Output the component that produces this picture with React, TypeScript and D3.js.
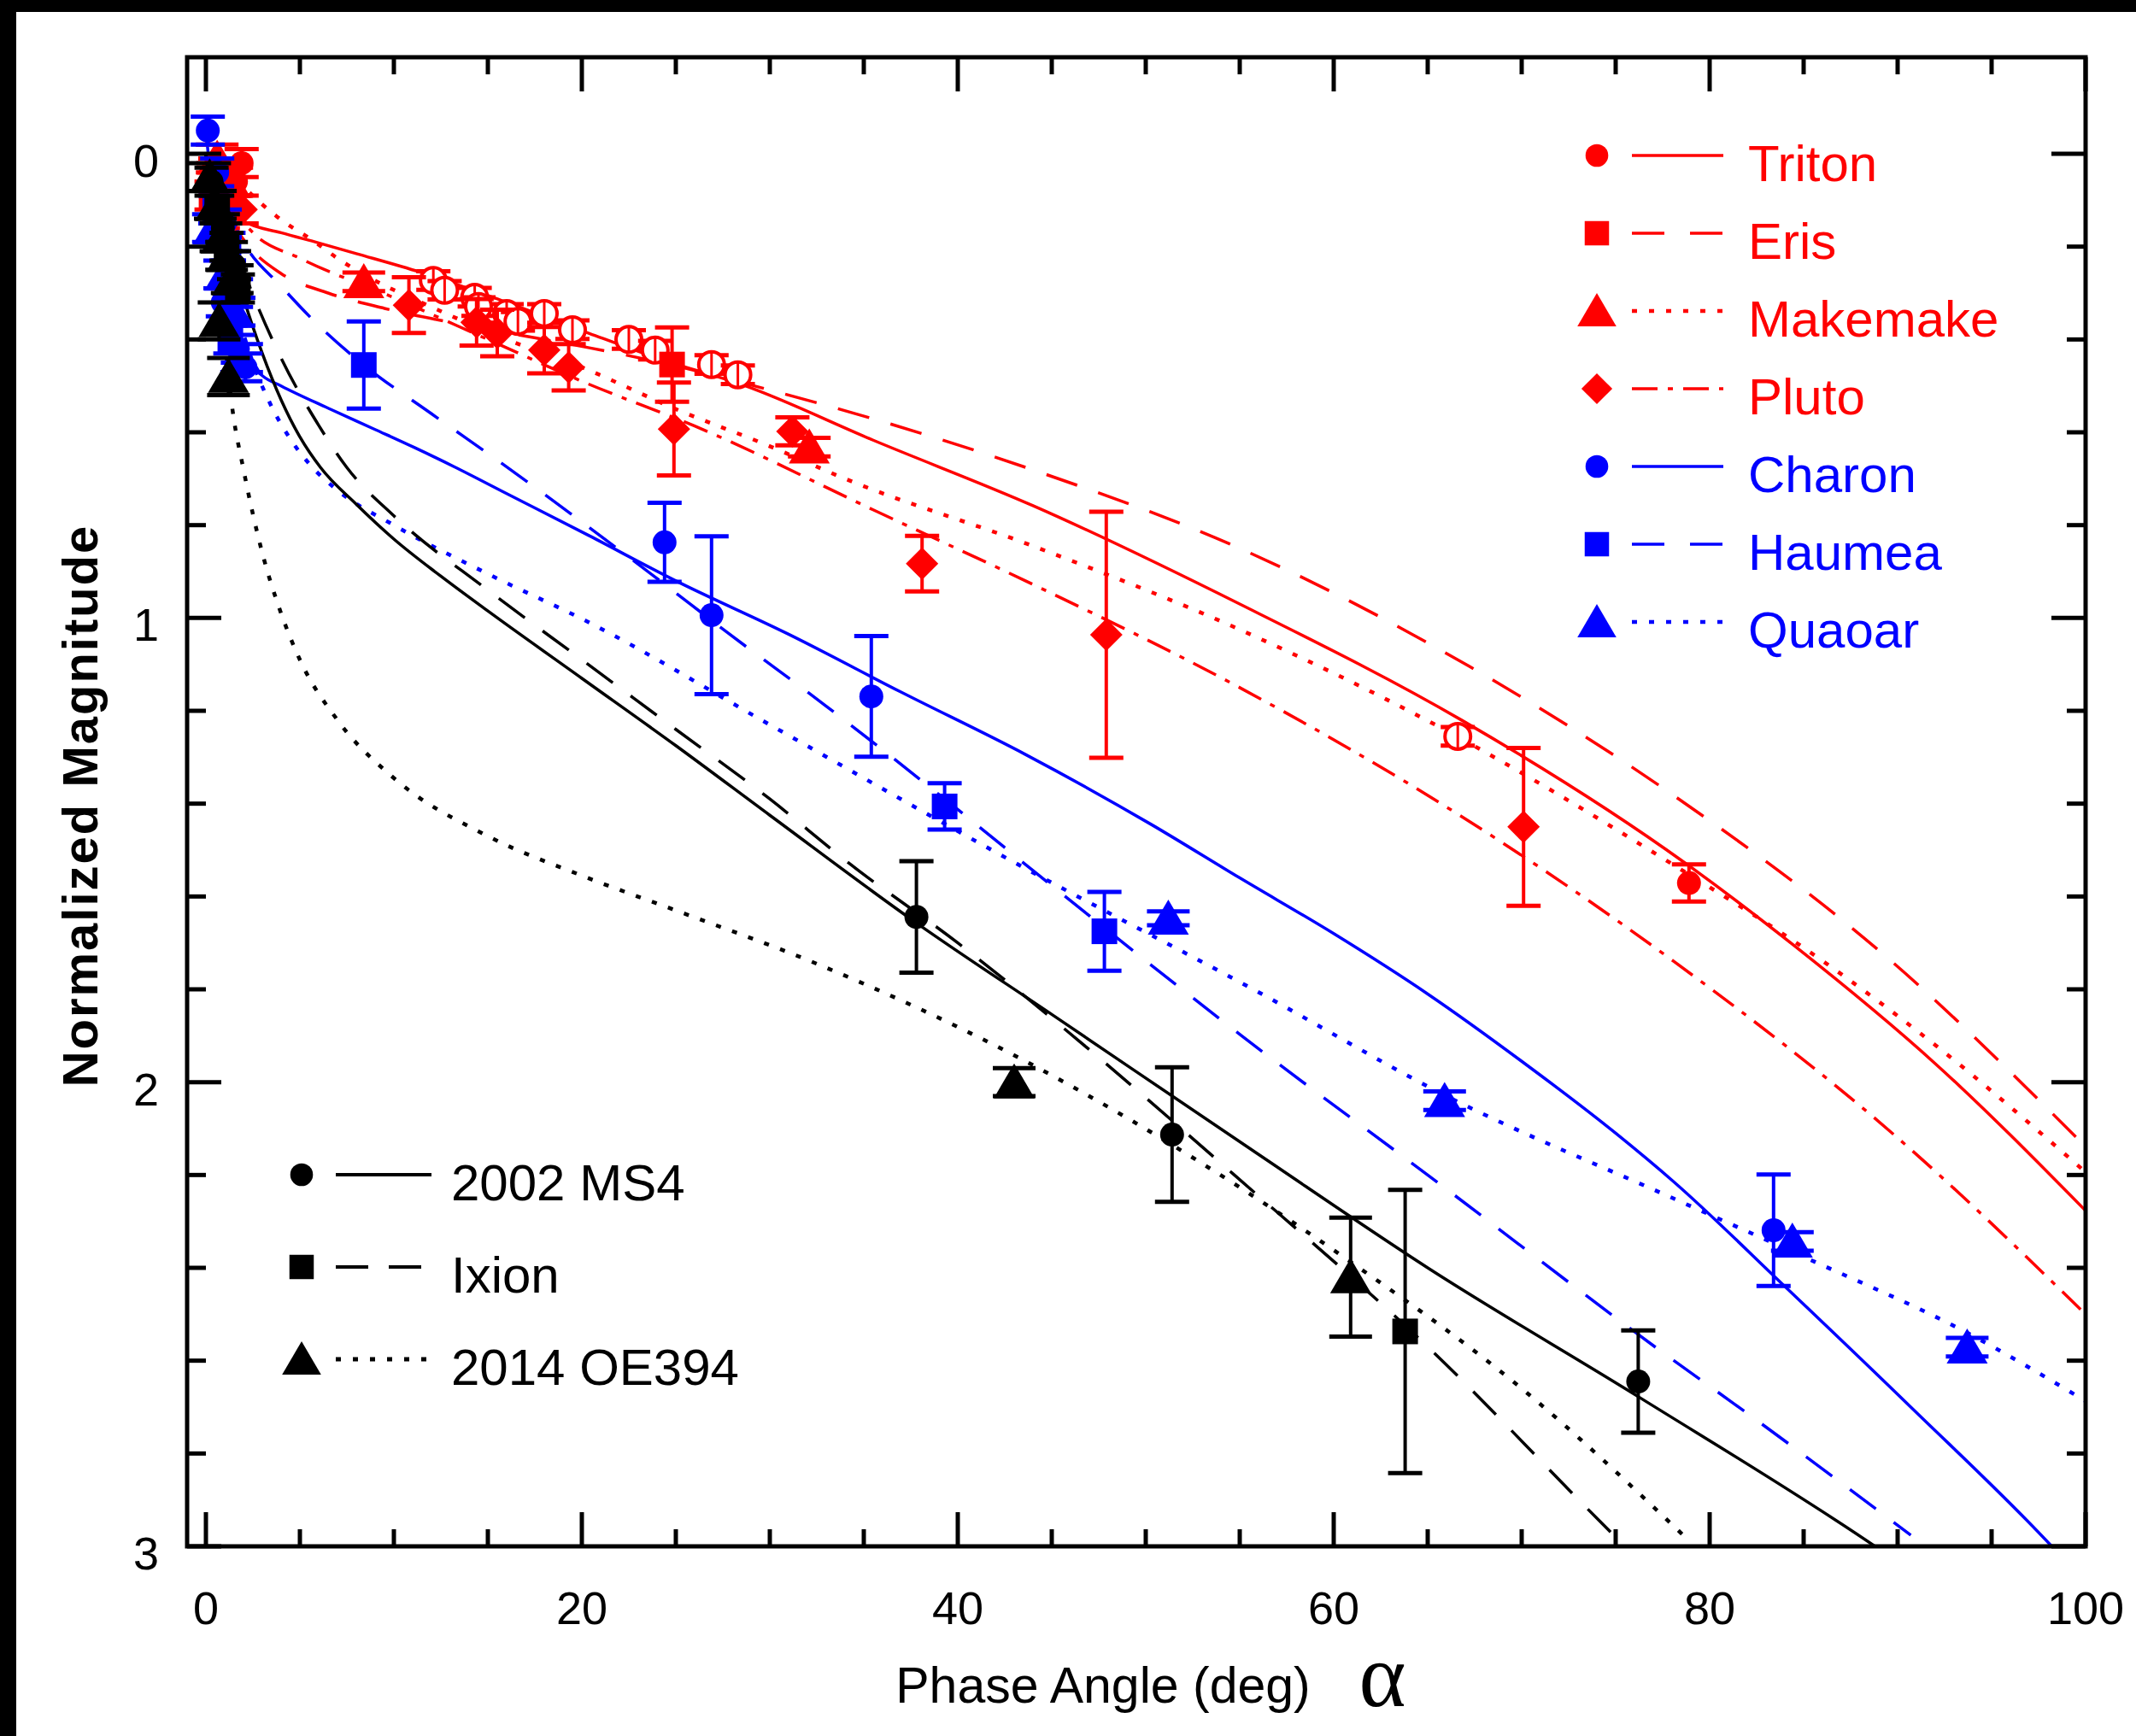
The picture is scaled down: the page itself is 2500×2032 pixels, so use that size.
import React, { useEffect } from 'react';
import * as d3 from 'd3';

// ---------- data ----------
const xTicksMajor = [0, 20, 40, 60, 80, 100];
const yTicksMajor = [0, 1, 2, 3];

// fitted phase curves [phase angle (deg), normalized magnitude]
const tritonFit = [[0,0.0],[1,0.085],[2,0.145],[4,0.17],[6,0.192],[8,0.215],[11.4,0.255],[16,0.32],[20.4,0.387],[24,0.44],[28.7,0.5],[35.5,0.617],[44,0.758],[55,0.97],[66.8,1.22],[78.7,1.528],[84.5,1.706],[92,1.96],[100,2.277]];
const erisFit = [[0,0.02],[1,0.12],[2.3,0.2],[4,0.258],[6.5,0.3],[9.5,0.333],[15,0.378],[20.4,0.418],[24.8,0.455],[30.1,0.51],[35.5,0.571],[44,0.681],[55,0.85],[67.2,1.104],[78,1.38],[89.4,1.73],[100,2.139]];
const makemakeFit = [[0,-0.03],[1,0.02],[2.1,0.074],[3.8,0.136],[5.8,0.19],[7.1,0.228],[8.4,0.26],[12,0.33],[16,0.4],[20,0.46],[25,0.55],[30,0.63],[34,0.7],[44,0.845],[55,1.025],[65.4,1.23],[78,1.53],[85.7,1.73],[92,1.92],[100,2.194]];
const plutoFit = [[0,0.0],[1,0.09],[2.5,0.17],[5,0.225],[10,0.31],[15,0.4],[20,0.49],[26.5,0.595],[35.5,0.767],[43.6,0.92],[55,1.15],[66.5,1.42],[78.1,1.74],[90,2.12],[100,2.5]];
const charonFit = [[0,-0.05],[0.5,0.14],[1,0.27],[1.5,0.37],[2,0.43],[3,0.478],[4,0.5],[6.5,0.548],[9,0.594],[11.1,0.633],[13.2,0.674],[16,0.732],[20.4,0.823],[25,0.92],[31,1.035],[37,1.16],[43.6,1.294],[50.3,1.445],[55,1.56],[60,1.68],[65,1.81],[70,1.955],[75,2.11],[78.1,2.215],[84,2.44],[90.7,2.7],[98.2,3.0],[100,3.08]];
const haumeaFit = [[0,0.0],[1,0.1],[2,0.19],[4,0.285],[6,0.37],[8.4,0.455],[12,0.56],[15.5,0.66],[24,0.915],[27.7,1.03],[33,1.19],[39.3,1.39],[45.1,1.58],[55.1,1.9],[65,2.2],[78.1,2.6],[81.2,2.69],[90.7,2.976]];
const quaoarFit = [[0,0.0],[0.5,0.12],[1,0.22],[1.7,0.345],[2.5,0.45],[3.5,0.545],[4.5,0.615],[5.5,0.668],[7,0.725],[10,0.8],[15,0.905],[20.4,1.01],[30,1.23],[42.8,1.522],[55.9,1.804],[66,2.03],[78.1,2.251],[85.1,2.378],[93.7,2.54],[100,2.687]];
const ms4Fit = [[0,0.0],[1,0.16],[2,0.31],[3,0.43],[4,0.53],[5,0.61],[6.1,0.676],[8,0.755],[10,0.83],[12.5,0.91],[15,0.985],[20,1.13],[25,1.275],[30,1.425],[37.8,1.657],[45,1.854],[55.9,2.153],[65,2.4],[76.3,2.68],[88.8,3.0],[92,3.09]];
const ixionFit = [[0,0.0],[1,0.13],[2,0.25],[4,0.44],[6,0.585],[7.5,0.676],[10,0.78],[15,0.94],[20,1.09],[25,1.24],[30,1.39],[34.2,1.528],[40,1.7],[47,1.93],[54.6,2.196],[65,2.57],[74.9,2.976],[76,3.02]];
const oe394Fit = [[0,0.0],[0.5,0.2],[1,0.4],[1.4,0.547],[2,0.68],[3,0.86],[4,0.99],[5,1.09],[7,1.22],[10,1.345],[15,1.47],[20,1.555],[25,1.63],[32.5,1.745],[42.8,1.938],[55.7,2.245],[61,2.39],[70,2.66],[78.7,2.98]];

// observations [phase angle, magnitude, error]
const tritonOpenObs = [[12.1,0.273,0.02],[12.7,0.294,0.02],[14.3,0.309,0.02],[14.5,0.329,0.02],[16.0,0.344,0.02],[16.6,0.361,0.02],[18.0,0.344,0.02],[19.5,0.379,0.02],[22.5,0.40,0.02],[23.9,0.423,0.02],[26.9,0.454,0.02],[28.3,0.476,0.02],[66.6,1.255,0.02]];
const tritonObs = [[78.9,1.571,0.04],[1.9,0.02,0.03],[1.6,0.06,0.03],[0.4,0.05,0.03]];
const erisObs = [[24.8,0.454,0.08],[0.3,0.09,0.03],[0.9,0.13,0.03]];
const makemakeObs = [[8.4,0.276,0.02],[32.1,0.632,0.02],[0.6,0.01,0.03],[1.3,0.06,0.03]];
const plutoObs = [[10.8,0.326,0.06],[14.4,0.363,0.05],[15.5,0.386,0.05],[18.0,0.423,0.05],[19.3,0.46,0.05],[24.9,0.593,0.1],[31.2,0.598,0.03],[38.1,0.883,0.06],[47.9,1.036,0.265],[70.1,1.45,0.17],[0.5,0.04,0.03],[1.2,0.1,0.03],[1.9,0.12,0.03]];
const charonObs = [[24.4,0.837,0.085],[26.9,0.994,0.17],[35.4,1.169,0.13],[83.4,2.319,0.12],[0.1,-0.05,0.03],[0.6,0.04,0.03],[1.0,0.15,0.03],[1.4,0.24,0.03],[0.9,0.32,0.03],[1.7,0.42,0.03],[2.1,0.46,0.03]];
const haumeaObs = [[8.4,0.455,0.094],[39.3,1.406,0.05],[47.8,1.675,0.085],[0.5,0.12,0.03],[1.2,0.2,0.03],[1.6,0.3,0.03],[1.3,0.4,0.03]];
const quaoarObs = [[51.2,1.647,0.015],[65.9,2.04,0.02],[84.4,2.343,0.02],[93.7,2.571,0.02],[0.4,0.16,0.03],[1.0,0.26,0.03],[1.5,0.34,0.03],[1.9,0.44,0.03]];
const ms4Obs = [[37.8,1.644,0.12],[51.4,2.113,0.145],[76.2,2.645,0.11],[0.3,0.06,0.03],[0.9,0.16,0.03],[1.5,0.24,0.03]];
const ixionObs = [[63.8,2.537,0.305],[0.6,0.12,0.03],[1.1,0.2,0.03],[1.7,0.29,0.03]];
const oe394Obs = [[43.0,2.0,0.03],[60.9,2.42,0.128],[0.2,0.05,0.03],[0.5,0.11,0.03],[0.8,0.18,0.03],[1.1,0.22,0.03],[1.4,0.27,0.03],[0.7,0.36,0.04],[1.2,0.48,0.04]];

const RED = '#ff0000';
const BLUE = '#0000ff';
const BLACK = '#000000';

const DASH = '38,26';
const DOT = '6,14';
const DASHDOT = '30,12,6,12';

type Shape = 'circle' | 'square' | 'triangle' | 'diamond' | 'open';

const series = [
  { name: 'Triton', color: RED, dash: '', shape: 'circle' as Shape, fit: tritonFit, obs: tritonObs },
  { name: 'Eris', color: RED, dash: DASH, shape: 'square' as Shape, fit: erisFit, obs: erisObs },
  { name: 'Makemake', color: RED, dash: DOT, shape: 'triangle' as Shape, fit: makemakeFit, obs: makemakeObs },
  { name: 'Pluto', color: RED, dash: DASHDOT, shape: 'diamond' as Shape, fit: plutoFit, obs: plutoObs },
  { name: 'Charon', color: BLUE, dash: '', shape: 'circle' as Shape, fit: charonFit, obs: charonObs },
  { name: 'Haumea', color: BLUE, dash: DASH, shape: 'square' as Shape, fit: haumeaFit, obs: haumeaObs },
  { name: 'Quaoar', color: BLUE, dash: DOT, shape: 'triangle' as Shape, fit: quaoarFit, obs: quaoarObs },
  { name: '2002 MS4', color: BLACK, dash: '', shape: 'circle' as Shape, fit: ms4Fit, obs: ms4Obs },
  { name: 'Ixion', color: BLACK, dash: DASH, shape: 'square' as Shape, fit: ixionFit, obs: ixionObs },
  { name: '2014 OE394', color: BLACK, dash: DOT, shape: 'triangle' as Shape, fit: oe394Fit, obs: oe394Obs },
];

// ---------- layout ----------
const W = 2500, H = 2032;
const PL = 219, PR = 2441, PT = 67, PB = 1810;
const x = d3.scaleLinear().domain([-1, 100]).range([PL, PR]);
const y = d3.scaleLinear().domain([-0.208, 3]).range([PT, PB]);
const FONT = '"Liberation Sans", Arial, Helvetica, sans-serif';

function Marker({ shape, cx, cy, color, s = 1 }: { shape: Shape; cx: number; cy: number; color: string; s?: number }) {
  if (shape === 'circle') return <circle cx={cx} cy={cy} r={14 * s} fill={color} />;
  if (shape === 'open') return <circle cx={cx} cy={cy} r={15 * s} fill="white" stroke={color} strokeWidth={4} />;
  if (shape === 'square') return <rect x={cx - 15 * s} y={cy - 15 * s} width={30 * s} height={30 * s} fill={color} />;
  if (shape === 'triangle') {
    const p = `${cx},${cy - 22 * s} ${cx - 24 * s},${cy + 19 * s} ${cx + 24 * s},${cy + 19 * s}`;
    return <polygon points={p} fill={color} />;
  }
  const p = `${cx},${cy - 19 * s} ${cx + 19 * s},${cy} ${cx},${cy + 19 * s} ${cx - 19 * s},${cy}`;
  return <polygon points={p} fill={color} />;
}

function ErrPoint({ d, shape, color }: { d: number[]; shape: Shape; color: string }) {
  const cx = x(d[0]), cy = y(d[1]);
  const y1 = y(d[1] - d[2]), y2 = y(d[1] + d[2]);
  const cw = shape === 'triangle' ? 25 : 20;
  return (
    <g>
      <line x1={cx} x2={cx} y1={y1} y2={y2} stroke={color} strokeWidth={4} />
      <line x1={cx - cw} x2={cx + cw} y1={y1} y2={y1} stroke={color} strokeWidth={5} />
      <line x1={cx - cw} x2={cx + cw} y1={y2} y2={y2} stroke={color} strokeWidth={5} />
      <Marker shape={shape} cx={cx} cy={cy} color={color} />
      {shape === 'open' && <line x1={cx} x2={cx} y1={cy - 15} y2={cy + 15} stroke={color} strokeWidth={3} />}
    </g>
  );
}

const lineGen = d3.line<number[]>().x(d => x(d[0])).y(d => y(d[1])).curve(d3.curveMonotoneX);

export default function App() {
  useEffect(() => {
    document.body.style.margin = '0';
  }, []);

  const xMinor = d3.range(0, 101, 5);
  const yMinor = d3.range(0, 3.0001, 0.2);

  const legendTop = series.slice(0, 7);
  const legendBottom = series.slice(7);

  return (
    <svg width={W} height={H} style={{ display: 'block', background: '#fff' }} fontFamily={FONT}>
      <rect x={0} y={0} width={W} height={H} fill="#fff" />
      <rect x={0} y={0} width={W} height={14} fill="#000" />
      <rect x={0} y={0} width={19} height={H} fill="#000" />
      <defs>
        <clipPath id="plot">
          <rect x={PL} y={PT} width={PR - PL} height={PB - PT} />
        </clipPath>
      </defs>

      {/* fitted curves */}
      <g clipPath="url(#plot)" fill="none">
        {series.map(s => (
          <path key={s.name} d={lineGen(s.fit) || ''} stroke={s.color} strokeWidth={s.dash === DOT ? 4.5 : 3.5}
            strokeDasharray={s.dash || undefined} />
        ))}
      </g>

      {/* observations */}
      <g clipPath="url(#plot)">
        {tritonOpenObs.map((d, i) => (
          <ErrPoint key={'to' + i} d={d} shape="open" color={RED} />
        ))}
        {series.map(s => (
          <g key={s.name}>
            {s.obs.map((d, i) => <ErrPoint key={i} d={d} shape={s.shape} color={s.color} />)}
          </g>
        ))}
      </g>

      {/* frame */}
      <rect x={PL} y={PT} width={PR - PL} height={PB - PT} fill="none" stroke="#000" strokeWidth={5} />

      {/* x ticks */}
      {xMinor.map(v => {
        const L = v % 20 === 0 ? 40 : 20;
        return (
          <g key={'xt' + v} stroke="#000" strokeWidth={5}>
            <line x1={x(v)} x2={x(v)} y1={PB} y2={PB - L} />
            <line x1={x(v)} x2={x(v)} y1={PT} y2={PT + L} />
          </g>
        );
      })}
      {/* y ticks */}
      {yMinor.map((v, i) => {
        const L = i % 5 === 0 ? 40 : 22;
        return (
          <g key={'yt' + i} stroke="#000" strokeWidth={5}>
            <line x1={PL} x2={PL + L} y1={y(v)} y2={y(v)} />
            <line x1={PR} x2={PR - L} y1={y(v)} y2={y(v)} />
          </g>
        );
      })}

      {xTicksMajor.map(v => (
        <text key={'xl' + v} x={x(v)} y={1901} fontSize={54} textAnchor="middle" fill="#000">{v}</text>
      ))}
      {yTicksMajor.map(v => (
        <text key={'yl' + v} x={186} y={y(v) + 27} fontSize={54} textAnchor="end" fill="#000">{v}</text>
      ))}

      <text x={1291} y={1993} fontSize={59} textAnchor="middle" fill="#000">Phase Angle (deg)</text>
      <text x={1618} y={1997} fontSize={105} textAnchor="middle" fill="#000" fontFamily='"Liberation Serif", "Times New Roman", serif'>α</text>
      <text transform="translate(114,943) rotate(-90)" fontSize={58} fontWeight="bold" letterSpacing={2} textAnchor="middle" fill="#000">Normalized Magnitude</text>

      {/* legend top-right */}
      {legendTop.map((s, i) => {
        const ry = 182 + i * 91;
        return (
          <g key={'lt' + s.name}>
            <Marker shape={s.shape} cx={1869} cy={ry} color={s.color} s={0.95} />
            <line x1={1910} x2={2017} y1={ry} y2={ry} stroke={s.color} strokeWidth={s.dash === DOT ? 4.5 : 3.5}
              strokeDasharray={s.dash === DASH ? '38,30' : s.dash || undefined} />
            <text x={2046} y={ry + 30} fontSize={60} fill={s.color}>{s.name}</text>
          </g>
        );
      })}

      {/* legend bottom-left */}
      {legendBottom.map((s, i) => {
        const ry = 1375 + i * 108;
        return (
          <g key={'lb' + s.name}>
            <Marker shape={s.shape} cx={353} cy={ry} color={s.color} s={0.95} />
            <line x1={393} x2={505} y1={ry} y2={ry} stroke={s.color} strokeWidth={s.dash === DOT ? 5 : 4}
              strokeDasharray={s.dash === DASH ? '38,24' : s.dash || undefined} />
            <text x={528} y={ry + 30} fontSize={60} fill={s.color}>{s.name}</text>
          </g>
        );
      })}
    </svg>
  );
}
